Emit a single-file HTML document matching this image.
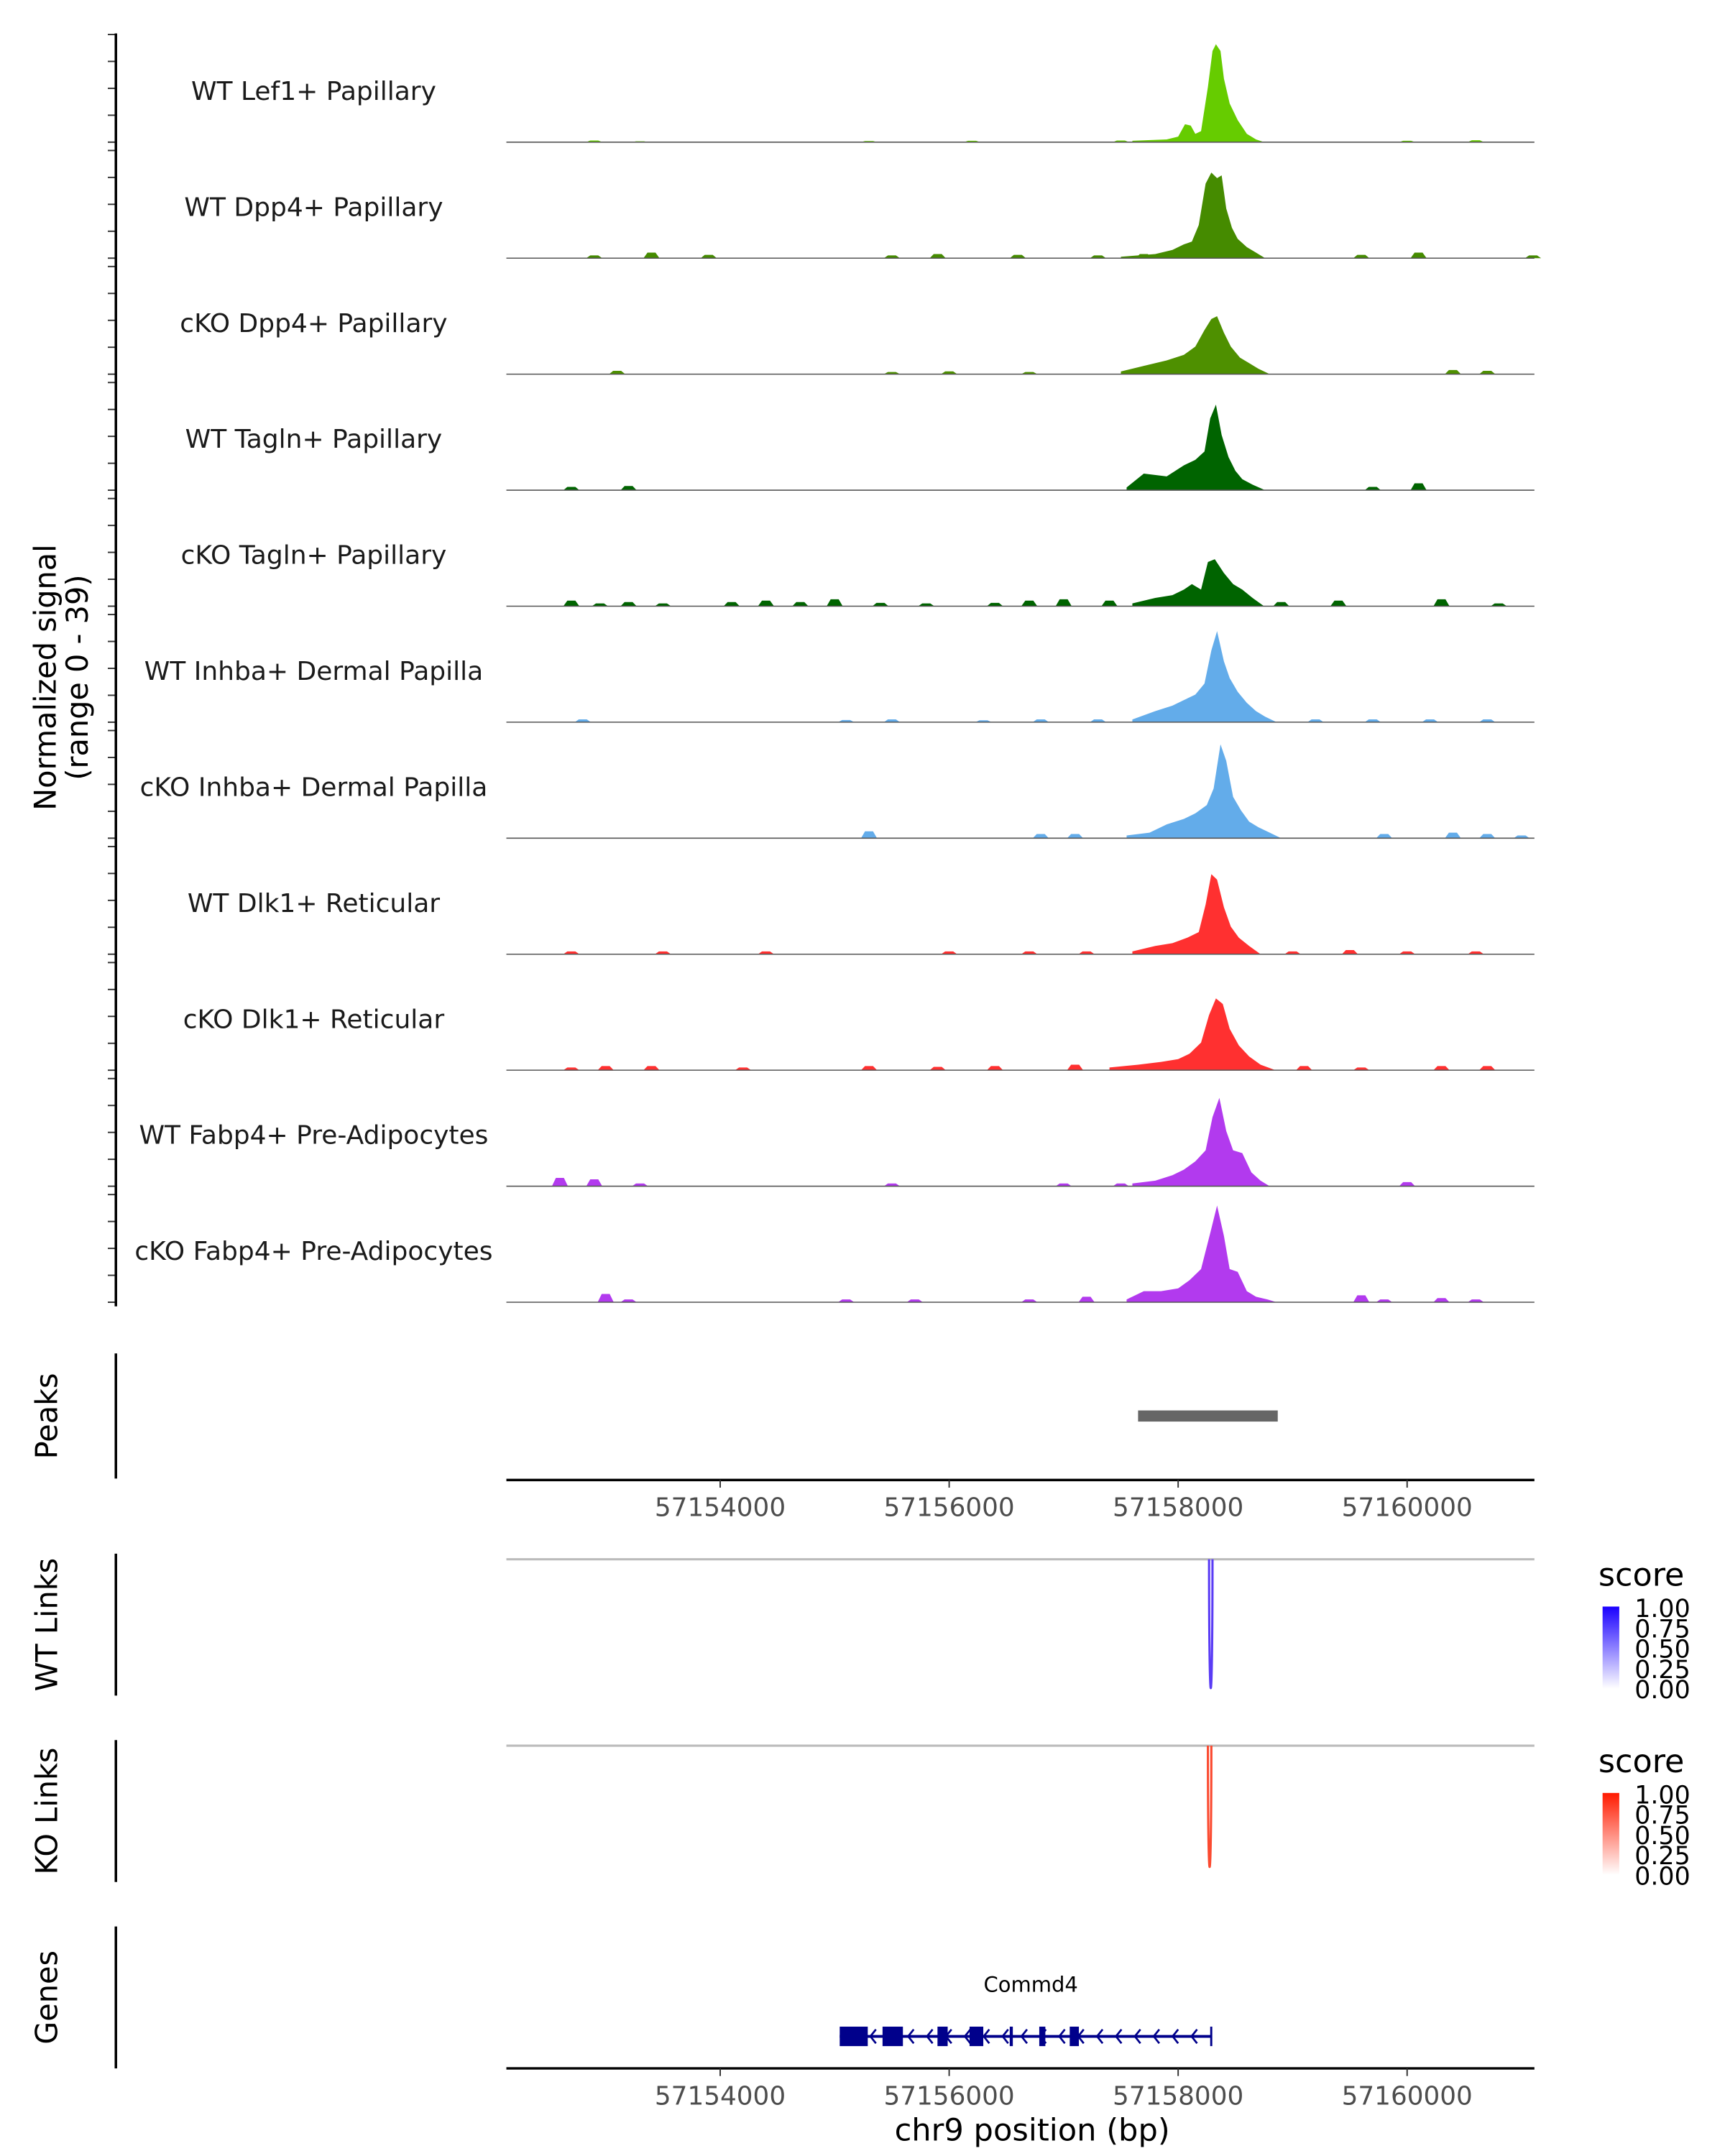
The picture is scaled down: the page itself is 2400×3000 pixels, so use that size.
<!DOCTYPE html>
<html><head><meta charset="utf-8"><style>
html,body{margin:0;padding:0;background:#fff}
svg{display:block}
text{font-family:"DejaVu Sans","Liberation Sans",sans-serif}
</style></head><body>
<svg id="chart" xmlns="http://www.w3.org/2000/svg" width="2400" height="3000" viewBox="0 0 1240 1550">
<g id="tracks"></g>
<g id="axes"></g>
</svg>
<script>
const trackNames = ["WT Lef1+ Papillary","WT Dpp4+ Papillary","cKO Dpp4+ Papillary","WT Tagln+ Papillary","cKO Tagln+ Papillary","WT Inhba+ Dermal Papilla","cKO Inhba+ Dermal Papilla","WT Dlk1+ Reticular","cKO Dlk1+ Reticular","WT Fabp4+ Pre-Adipocytes","cKO Fabp4+ Pre-Adipocytes"];
const trackColors = ["#66cc00","#458b00","#4e9000","#006400","#006400","#63acea","#63acea","#ff3030","#ff3030","#b23aee","#b23aee"];
const peakPos = [
[57157600,57157900,57158000,57158060,57158110,57158150,57158200,57158260,57158300,57158330,57158370,57158400,57158450,57158520,57158600,57158680,57158750],
[57157500,57157800,57157950,57158050,57158120,57158180,57158240,57158290,57158340,57158380,57158420,57158470,57158520,57158600,57158680,57158760],
[57157500,57157700,57157900,57158050,57158150,57158230,57158290,57158340,57158400,57158460,57158540,57158620,57158700,57158800],
[57157550,57157700,57157900,57158050,57158150,57158230,57158280,57158330,57158380,57158440,57158500,57158560,57158650,57158760],
[57157600,57157800,57157950,57158050,57158120,57158200,57158260,57158320,57158400,57158480,57158560,57158650,57158750],
[57157600,57157800,57157950,57158050,57158150,57158230,57158290,57158340,57158400,57158450,57158520,57158600,57158680,57158760,57158860],
[57157550,57157750,57157900,57158050,57158150,57158250,57158310,57158370,57158420,57158480,57158550,57158620,57158700,57158800,57158900],
[57157600,57157800,57157950,57158080,57158180,57158240,57158290,57158340,57158400,57158460,57158530,57158620,57158720],
[57157400,57157650,57157850,57158000,57158100,57158200,57158270,57158330,57158390,57158450,57158530,57158620,57158720,57158850],
[57157600,57157800,57157950,57158050,57158150,57158240,57158300,57158360,57158420,57158480,57158560,57158640,57158720,57158800],
[57157550,57157700,57157850,57158000,57158100,57158200,57158280,57158340,57158400,57158450,57158520,57158600,57158680,57158780,57158860]];
const peakVal = [
[0.5,1,2,6.5,6,3,4,20,33,35.5,33,23,14,8,3,1,0],
[0.5,1.5,3,5,6,12,27,31,29,30,18,11,7,4,2,0],
[1,3,5,7,10,16,20,21,15,10,6,4,2,0],
[1,6,5,9,11,14,26,31,20,12,7,4,2,0],
[1,3,4,6,8,6,16,17,12,8,6,3,0],
[1,4,6,8,10,14,26,33,22,16,11,7,4,2,0],
[1,2,5,7,9,12,18,34,28,15,10,6,4,2,0],
[1,3,4,6,8,18,29,27,17,10,6,3,0],
[1,2,3,4,6,10,20,26,24,15,9,5,2,0],
[1,2,4,6,9,13,25,32,20,13,12,5,2,0],
[1,4,4,5,8,12,25,35,24,12,11,4,2,1,0]];
const bumpPos = [
[57152900,57153300,57155300,57156200,57157500,57160000,57160600],
[57152900,57153400,57153900,57155500,57155900,57156600,57157300,57157700,57159600,57160100,57161100],
[57153100,57155500,57156000,57156700,57160400,57160700],
[57152700,57153200,57159700,57160100],
[57152700,57152950,57153200,57153500,57154100,57154400,57154700,57155000,57155400,57155800,57156400,57156700,57157000,57157400,57158900,57159400,57160300,57160800],
[57152800,57155100,57155500,57156300,57156800,57157300,57159200,57159700,57160200,57160700],
[57155300,57156800,57157100,57159800,57160400,57160700,57161000],
[57152700,57153500,57154400,57156000,57156700,57157200,57159000,57159500,57160000,57160600],
[57152700,57153000,57153400,57154200,57155300,57155900,57156400,57157100,57157600,57159100,57159600,57160300,57160700],
[57152600,57152900,57153300,57155500,57157000,57157500,57160000],
[57153000,57153200,57155100,57155700,57156700,57157200,57159600,57159800,57160300,57160600]];
const bumpVal = [
[0.6,0.3,0.4,0.5,0.6,0.5,0.7],
[1,2,1.2,1,1.5,1.2,1,1.5,1.2,2,1],
[1.2,0.8,1,0.8,1.5,1.2],
[1.2,1.5,1.2,2.5],
[2,1,1.5,1,1.5,2,1.5,2.5,1.2,1,1.2,2,2.5,2,1.5,2,2.5,1],
[1,0.8,1,0.7,1,1,1,1,1,1],
[2.5,1.5,1.5,1.5,2,1.5,1],
[1,1,1,1,1,1,1,1.5,1,1],
[1,1.5,1.5,1,1.5,1.2,1.5,2,1.5,1.5,1,1.5,1.5],
[3,2.5,1,1,1,1,1.5],
[3,1,1,1,1,2,2.5,1,1.5,1]];
const xTicks = [57154000,57156000,57158000,57160000];
const peakRegion = [57157650,57158870];
const wtLink = [57158270,57158300,0.85];
const koLink = [57158260,57158290,0.8];
const exonStart = [57155044,57155418,57155898,57156178,57156529,57156787,57157053];
const exonEnd = [57155289,57155596,57155987,57156298,57156556,57156840,57157133];
const geneRange = [57155044,57158289];
const legendTicks = ["1.00","0.75","0.50","0.25","0.00"];

const NS="http://www.w3.org/2000/svg";
const X0=364,X1=1103;
function xs(bp){return 517.7+(bp-57154000)*0.0823;}
const YMAX=39, TP=83.4, TH=77.4, B0=102.2;
function ys(i,v){return B0+TP*i-v/YMAX*TH;}
function el(tag,attrs,parent){const e=document.createElementNS(NS,tag);for(const k in attrs)e.setAttribute(k,attrs[k]);parent.appendChild(e);return e;}
const gT=document.getElementById('tracks'), gA=document.getElementById('axes');

for(let i=0;i<trackNames.length;i++){
  const base=ys(i,0);
  const g=el('g',{},gT);
  
  
  const t=el('text',{x:225.5,y:base-30.4,'font-size':18.6,'text-anchor':'middle',fill:'#1a1a1a'},g);
  t.textContent=trackNames[i];
  
  
  let d='M'+xs(peakPos[i][0])+','+base;
  for(let k=0;k<peakPos[i].length;k++) d+=' L'+xs(peakPos[i][k]).toFixed(2)+','+ys(i,peakVal[i][k]).toFixed(2);
  d+=' L'+xs(peakPos[i][peakPos[i].length-1])+','+base+'Z';
  const p=el('path',{d:d,fill:trackColors[i]},g);
  
  
  for(let k=0;k<bumpPos[i].length;k++){
    const c=bumpPos[i][k],v=bumpVal[i][k];
    const bd='M'+xs(c-70)+','+base+' L'+xs(c-35)+','+ys(i,v)+' L'+xs(c+35)+','+ys(i,v)+' L'+xs(c+70)+','+base+'Z';
    const b=el('path',{d:bd,fill:trackColors[i]},g);
    
    
  }
  const bl=el('line',{x1:X0,x2:X1,y1:base,y2:base,stroke:'#555','stroke-width':0.8},g);
  
  
  for(let j=0;j<5;j++){
    const yy=base-j*TH/4;
    const tk=el('line',{x1:77.5,x2:83,y1:yy,y2:yy,stroke:'#333','stroke-width':1},gA);
    
    
  }
}
let ax=el('line',{x1:83.3,x2:83.3,y1:24,y2:ys(10,0)+3,stroke:'#000','stroke-width':1.8},gA);


let yt=el('text',{transform:'translate(40,487) rotate(-90)','font-size':21.4,'text-anchor':'middle',fill:'#000'},gA);


yt.innerHTML='<tspan x="0" dy="0">Normalized signal</tspan><tspan x="0" dy="23">(range 0 - 39)</tspan>';

function sideLabel(txt,y1,y2,name){
  const l=el('line',{x1:83.3,x2:83.3,y1:y1,y2:y2,stroke:'#000','stroke-width':1.8},gA);
  
  
  const t=el('text',{transform:'translate(41,'+((y1+y2)/2)+') rotate(-90)','font-size':21.4,'text-anchor':'middle',fill:'#000'},gA);
  t.textContent=txt;
  
  
}
sideLabel('Peaks',973,1063,'peaks');
sideLabel('WT Links',1117,1219,'wt-links');
sideLabel('KO Links',1251,1353,'ko-links');
sideLabel('Genes',1385,1487,'genes');

const pk=el('rect',{x:xs(peakRegion[0]),y:1014,width:xs(peakRegion[1])-xs(peakRegion[0]),height:8,fill:'#666'},gA);



function xAxis(y,name){
  const l=el('line',{x1:X0,x2:X1,y1:y,y2:y,stroke:'#000','stroke-width':1.8},gA);
  
  
  for(const t of xTicks){
    const tk=el('line',{x1:xs(t),x2:xs(t),y1:y,y2:y+5.5,stroke:'#333','stroke-width':1},gA);
    
    
    const tl=el('text',{x:xs(t),y:y+26,'font-size':18.5,'text-anchor':'middle',fill:'#4d4d4d'},gA);
    tl.textContent=String(t);
    
    
  }
}
xAxis(1064,'peaks-x-axis');
xAxis(1487,'genes-x-axis');
let xt=el('text',{x:742,y:1539,'font-size':22.3,'text-anchor':'middle',fill:'#000'},gA);
xt.textContent='chr9 position (bp)';



function linkPanel(top,link,col,lo,name){
  const gl=el('line',{x1:X0,x2:X1,y1:top,y2:top,stroke:'#bbb','stroke-width':1.6},gA);
  
  
  const a=xs(link[0]),b=xs(link[1]),depth=95*link[2]/0.85;
  const p=el('path',{d:'M'+a+','+top+' C'+a+','+(top+depth*1.3)+' '+b+','+(top+depth*1.3)+' '+b+','+top,fill:'none',stroke:col,'stroke-width':1.6},gA);
  
  
  const gid=name+'-grad';
  const defs=el('defs',{},gA);
  const lg=el('linearGradient',{id:gid,x1:0,y1:1,x2:0,y2:0},defs);
  el('stop',{offset:0,'stop-color':'#fff'},lg);
  el('stop',{offset:1,'stop-color':lo},lg);
  const lt=el('text',{x:1149,y:top+19,'font-size':23,fill:'#000'},gA);
  lt.textContent='score';
  
  
  const bar=el('rect',{x:1152,y:top+34,width:12,height:59,fill:'url(#'+gid+')'},gA);
  
  
  for(let k=0;k<legendTicks.length;k++){
    const yy=top+35+k*14.6;
    const lb=el('text',{x:1175,y:yy+6.5,'font-size':18,fill:'#000'},gA);
    lb.textContent=legendTicks[k];
    
    
  }
}
linkPanel(1121,wtLink,'#5a3cf5','#1a00ff','wt-links');
linkPanel(1255,koLink,'#fb4a30','#ff1a00','ko-links');

const gy=1464;
const gl=el('line',{x1:xs(geneRange[0]),x2:xs(geneRange[1]),y1:gy,y2:gy,stroke:'#00008b','stroke-width':2},gA);


for(let k=0;k<exonStart.length;k++){
  const r=el('rect',{x:xs(exonStart[k]),y:gy-7,width:Math.max(1.5,xs(exonEnd[k])-xs(exonStart[k])),height:14,fill:'#00008b'},gA);
  
  
}
for(let bp=57155330;bp<geneRange[1]-50;bp+=165){
  const x=xs(bp);
  const c=el('path',{d:'M'+(x+2.5)+','+(gy-5)+' L'+(x-1.5)+','+gy+' L'+(x+2.5)+','+(gy+5),fill:'none',stroke:'#00008b','stroke-width':1.4},gA);
  
  
}
const ge=el('line',{x1:xs(geneRange[1]),x2:xs(geneRange[1]),y1:gy-7,y2:gy+7,stroke:'#00008b','stroke-width':1.5},gA);


const gn=el('text',{x:741,y:1432,'font-size':15,'text-anchor':'middle',fill:'#000'},gA);
gn.textContent='Commd4';


</script>
</body></html>
